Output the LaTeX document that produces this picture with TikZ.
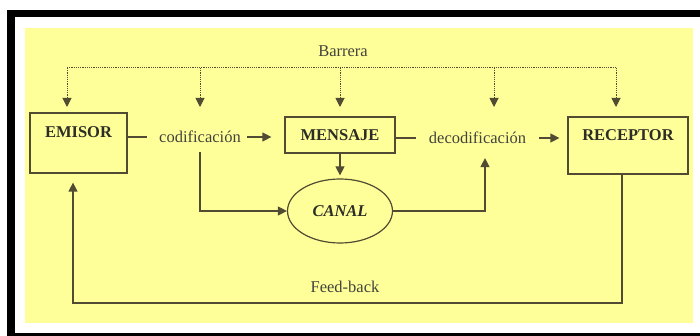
\documentclass[tikz,border=0pt]{standalone}
\usepackage{fontspec}
\setmainfont{Liberation Serif}
\usetikzlibrary{arrows.meta,positioning,shapes.geometric}
\definecolor{paper}{RGB}{255,255,153}
\definecolor{ink}{RGB}{80,75,50}
\definecolor{txt}{RGB}{45,45,40}

\begin{document}
\begin{tikzpicture}[
    x=1pt, y=-1pt,
    font=\fontsize{16.5}{19}\selectfont,
    box/.style={draw=ink, line width=1.2pt, inner sep=0pt, text=txt, font=\fontsize{16.5}{19}\selectfont\bfseries},
    canalshape/.style={ellipse, draw=ink, line width=1.2pt, inner sep=0pt, text=txt, font=\fontsize{16.5}{19}\selectfont\bfseries\itshape},
    word/.style={text=txt!90!white, inner sep=1pt},
    line/.style={draw=ink, line width=1.2pt},
    arrow/.style={line, -{Triangle[length=9pt,width=9pt]}},
    dotline/.style={line, line width=1pt, dash pattern=on 1.2pt off 1pt},
    dotarrow/.style={arrow, line width=1pt, dash pattern=on 1.2pt off 1pt}
]
% frame and paper
\useasboundingbox (0,0) rectangle (700,336);
\fill[black] (7,10) rectangle (700,336);
\fill[white] (15,17) rectangle (700,333);
\fill[paper] (25,28) rectangle (693,323);

\node[box, minimum width=97pt, text height=24.5pt, text depth=35.5pt] (emisor) at (78.5,143) {EMISOR};
\node[box, minimum width=120pt, text height=23.5pt, text depth=33.5pt] (receptor) at (628,145.5) {RECEPTOR};
\node[box, minimum width=110pt, minimum height=36pt] (mensaje) at (340,135) {MENSAJE};
\node[canalshape, minimum width=105pt, minimum height=64pt] (canal) at (340,211) {CANAL};

\node[word] (codif) at (200,137) {codificación};
\node[word] (decodif) at (477.5,138) {decodificación};
\node[word] (barrera) at (343,51) {Barrera};
\node[word] (feedback) at (345,287) {Feed-back};

% barrera
\coordinate (barL) at (67,68);
\coordinate (barR) at (616,68);
\coordinate (tips) at (0,107);
\draw[dotline] (barL) -- (barR);
\draw[dotarrow] (barL) -- (barL |- tips);
\draw[dotarrow] (codif |- barL) -- (codif |- tips);
\draw[dotarrow] (mensaje |- barL) -- (mensaje |- tips);
\draw[dotarrow] ([xshift=16.5pt]decodif.north |- barL) -- ([xshift=16.5pt]decodif.north |- tips);
\draw[dotarrow] (barR) -- (barR |- tips);

% main chain
\draw[line] (emisor.east |- codif) -- ([xshift=-11pt]codif.west);
\draw[arrow] ([xshift=5pt]codif.east) -- ([xshift=-13pt]mensaje.west |- codif.east);
\draw[line] (mensaje.east |- decodif) -- ([xshift=-12pt]decodif.west);
\draw[arrow] ([xshift=12pt]decodif.east) -- ([xshift=-8pt]receptor.west |- decodif.east);

% canal
\draw[arrow] (mensaje) -- ([yshift=3pt]canal.north);
\draw[arrow] ([yshift=-8pt]codif.south) |- (canal.west);
\draw[arrow] (canal.east) -| ([xshift=7.5pt,yshift=-13pt]decodif.south);

% feed-back
\coordinate (fbline) at (0,303);
\draw[arrow] ([xshift=-6pt]receptor.south) |- ([xshift=-5.5pt]emisor.south |- fbline) -- ([xshift=-5.5pt,yshift=-9pt]emisor.south);
\end{tikzpicture}
\end{document}
